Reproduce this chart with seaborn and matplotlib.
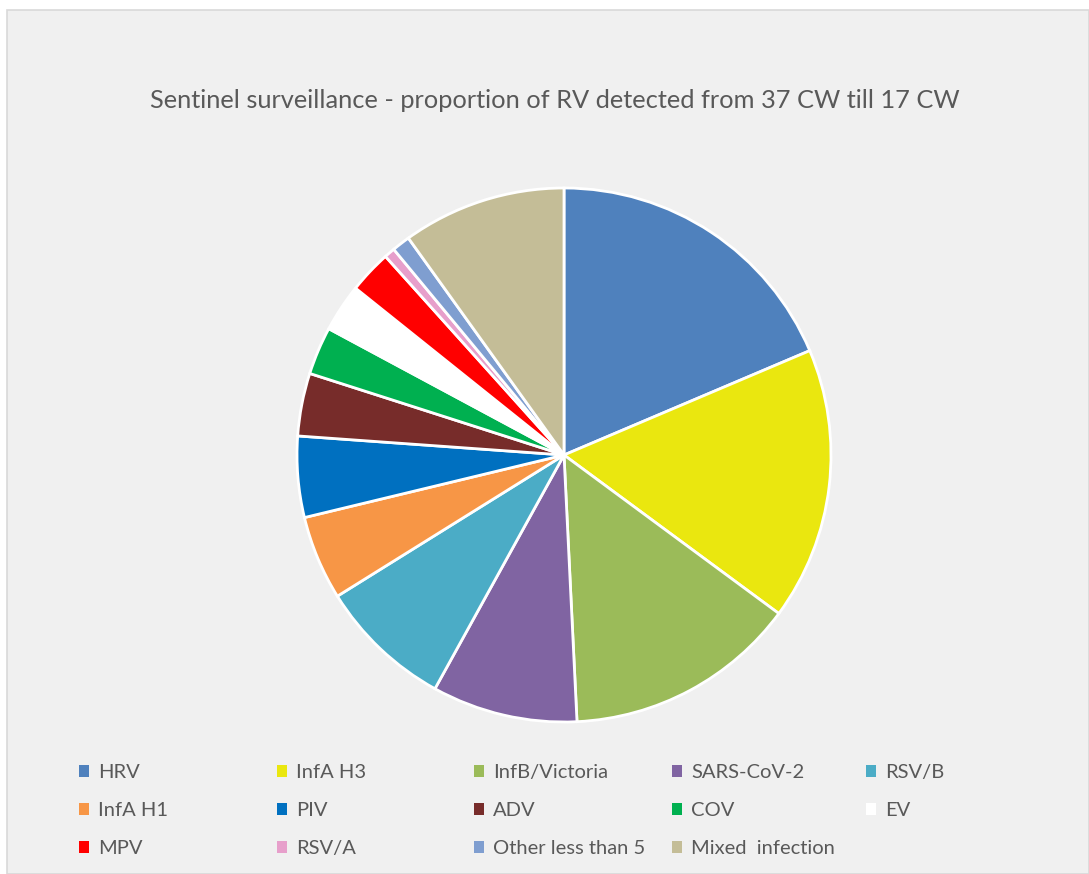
import matplotlib
matplotlib.use("Agg")
import matplotlib.pyplot as plt
from matplotlib.patches import Patch, Rectangle
import seaborn as sns

sns.set_style("white")
plt.rcParams["font.family"] = ["Lato", "DejaVu Sans"]

# Share of respiratory viruses detected (%), sentinel surveillance 37 CW - 17 CW
viruses = ["HRV", "InfA H3", "InfB/Victoria", "SARS-CoV-2", "RSV/B",
           "InfA H1", "PIV", "ADV", "COV", "EV",
           "MPV", "RSV/A", "Other less than 5", "Mixed  infection"]
shares = [18.6, 16.5, 14.1, 8.8, 8.1,
          5.1, 4.9, 3.8, 2.9, 2.9,
          2.6, 0.65, 1.1, 9.9]
colors = ["#4F81BD", "#EAE70F", "#9BBB59", "#8064A2", "#4BACC6",
          "#F79646", "#0070C0", "#772C2A", "#00B050", "#FFFFFF",
          "#FF0000", "#E79FCB", "#7F9ED0", "#C4BD97"]

title = "Sentinel surveillance - proportion of RV detected from 37 CW till 17 CW"
text_color = "#595959"
bg = "#F0F0F0"

W, H = 1089, 874
fig = plt.figure(figsize=(W / 100, H / 100), dpi=100)
fig.patch.set_facecolor("white")

# chart area panel with a light border, kept behind the pie
fig.patches.append(Rectangle((7 / W, 0), 1 - 7 / W, 1 - 10 / H,
                             transform=fig.transFigure, facecolor=bg,
                             edgecolor="#D9D9D9", linewidth=1.2, zorder=-10))

cx, cy, r = 564, 455, 267
ax = fig.add_axes([(cx - r) / W, 1 - (cy + r) / H, 2 * r / W, 2 * r / H])
ax.set_zorder(1)
ax.set_facecolor("none")
wedges, _ = ax.pie(shares, colors=colors, startangle=90, counterclock=False,
                   radius=1.0, wedgeprops=dict(edgecolor="white", linewidth=2))
for w in wedges:
    w.set_clip_on(False)
ax.set_xlim(-1.0, 1.0)
ax.set_ylim(-1.0, 1.0)
ax.set_aspect("equal")
ax.axis("off")

fig.text(555 / W, 1 - 100 / H, title, ha="center", va="center",
         fontsize=18.3, color=text_color)

# legend laid out as five equal-width columns
handles = [Patch(facecolor=c, edgecolor="none") for c in colors]
ncol = 5
col_x = [79, 277, 474, 672, 866]
for j in range(ncol):
    idx = list(range(j, len(viruses), ncol))
    fig.legend([handles[i] for i in idx], [viruses[i] for i in idx],
               loc="upper left",
               bbox_to_anchor=(col_x[j] / W, 1 - 764 / H),
               bbox_transform=fig.transFigure,
               frameon=False, fontsize=14.5, labelcolor=text_color,
               handlelength=0.5, handleheight=0.5, handletextpad=0.45,
               labelspacing=1.05, borderaxespad=0, borderpad=0)

fig.savefig("out.png", dpi=100, facecolor=fig.get_facecolor())
